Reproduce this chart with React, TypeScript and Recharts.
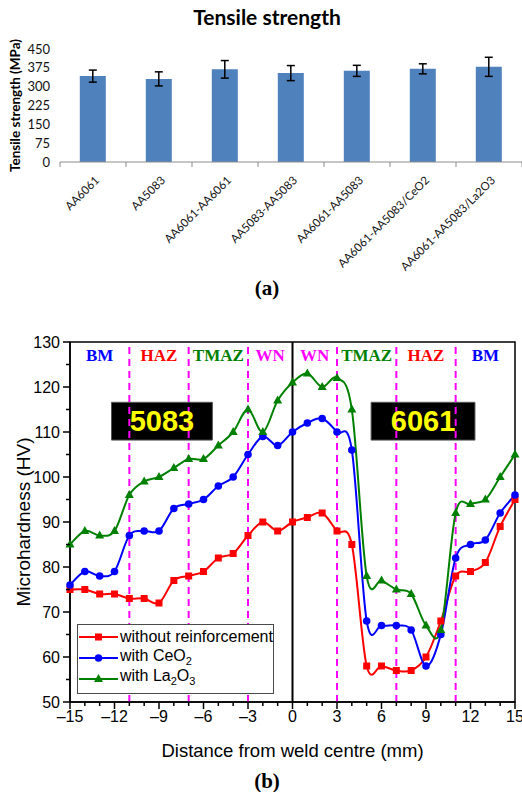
import React from "react";
import {
  BarChart,
  Bar,
  ErrorBar,
  XAxis,
  YAxis,
  LineChart,
  Line,
  ReferenceLine,
  ReferenceArea,
  Legend,
} from "recharts";

// (a) tensile strength
const alloys = [
  "AA6061",
  "AA5083",
  "AA6061-AA6061",
  "AA5083-AA5083",
  "AA6061-AA5083",
  "AA6061-AA5083/CeO2",
  "AA6061-AA5083/La2O3",
];
const tensile = [342, 331, 369, 354, 363, 371, 379];
const tensileErr = [24, 28, 35, 30, 22, 20, 38];
const tensileTicks = [0, 75, 150, 225, 300, 375, 450];

// (b) microhardness profile
const distance = [
  -15, -14, -13, -12, -11, -10, -9, -8, -7, -6, -5, -4, -3, -2, -1, 0, 1, 2, 3, 4, 5, 6, 7, 8, 9, 10, 11, 12, 13,
  14, 15,
];
const plain = [
  75, 75, 74, 74, 73, 73, 72, 77, 78, 79, 82, 83, 87, 90, 88, 90, 91, 92, 88, 85, 58, 58, 57, 57, 60, 68, 78, 79, 81,
  89, 95,
];
const ceo2 = [
  76, 79, 78, 79, 87, 88, 88, 93, 94, 95, 98, 100, 105, 109, 107, 110, 112, 113, 110, 106, 68, 67, 67, 66, 58, 65, 82,
  85, 86, 92, 96,
];
const la2o3 = [
  85, 88, 87, 88, 96, 99, 100, 102, 104, 104, 107, 110, 115, 110, 117, 121, 123, 120, 122, 115, 78, 77, 75, 74, 67, 66,
  92, 94, 95, 100, 105,
];
const xTicks = [
  -15, -14, -13, -12, -11, -10, -9, -8, -7, -6, -5, -4, -3, -2, -1, 0, 1, 2, 3, 4, 5, 6, 7, 8, 9, 10, 11, 12, 13, 14,
  15,
];
const hvTicks = [50, 55, 60, 65, 70, 75, 80, 85, 90, 95, 100, 105, 110, 115, 120, 125, 130];

// weld zones and their borders
const zoneNames = ["BM", "HAZ", "TMAZ", "WN", "WN", "TMAZ", "HAZ", "BM"];
const zoneEdges = [-15, -11, -7, -3, 0, 3, 7, 11, 15];
const zoneColors = ["#0000ff", "#ff0000", "#008000", "#ff00ff", "#ff00ff", "#008000", "#ff0000", "#0000ff"];
const dashedAt = [-11, -7, -3, 3, 7, 11];

// black name boxes
const boxes = [
  { text: "5083", x1: -12.2, x2: -5.4, y1: 108.2, y2: 116.6 },
  { text: "6061", x1: 5.3, x2: 12.3, y1: 108.2, y2: 116.6 },
];

const series = [
  { key: "plain", name: "without reinforcement", color: "#ff0000", shape: "square" },
  { key: "ceo2", name: "with CeO2", color: "#0000ff", shape: "circle" },
  { key: "la2o3", name: "with La2O3", color: "#008000", shape: "triangle" },
];

const barData = alloys.map((name, i) => ({ name, value: tensile[i], err: tensileErr[i] }));
const hvData = distance.map((d, i) => ({ d, plain: plain[i], ceo2: ceo2[i], la2o3: la2o3[i] }));

const SANS = "'Liberation Sans', Arial, sans-serif";
const SERIF = "'Liberation Serif', 'Times New Roman', serif";
const OFFICE = "Lato, sans-serif";

// excel-like smoothed line (catmull-rom through the points)
function smooth(context: any) {
  let pts: number[][] = [];
  return {
    areaStart() {},
    areaEnd() {},
    lineStart() {
      pts = [];
    },
    point(x: number, y: number) {
      pts.push([+x, +y]);
    },
    lineEnd() {
      if (!pts.length) return;
      context.moveTo(pts[0][0], pts[0][1]);
      for (let i = 0; i < pts.length - 1; i++) {
        const p0 = pts[Math.max(i - 1, 0)];
        const p1 = pts[i];
        const p2 = pts[i + 1];
        const p3 = pts[Math.min(i + 2, pts.length - 1)];
        context.bezierCurveTo(
          p1[0] + (p2[0] - p0[0]) / 6,
          p1[1] + (p2[1] - p0[1]) / 6,
          p2[0] - (p3[0] - p1[0]) / 6,
          p2[1] - (p3[1] - p1[1]) / 6,
          p2[0],
          p2[1]
        );
      }
    },
  };
}

function marker(shape: string, cx: number, cy: number, color: string, key?: any) {
  if (shape === "square") return <rect key={key} x={cx - 3.5} y={cy - 3.5} width={7} height={7} fill={color} />;
  if (shape === "circle") return <circle key={key} cx={cx} cy={cy} r={3.8} fill={color} />;
  return (
    <polygon key={key} points={`${cx},${cy - 5} ${cx - 4.5},${cy + 3} ${cx + 4.5},${cy + 3}`} fill={color} />
  );
}

const fmt = (v: number) => (v < 0 ? "\u2013" + Math.abs(v) : String(v));

const withSubs = (s: string) =>
  s.split(/(\d)/).map((part, i) =>
    /\d/.test(part) ? (
      <sub key={i} style={{ fontSize: 11, verticalAlign: -4 }}>
        {part}
      </sub>
    ) : (
      <span key={i}>{part}</span>
    )
  );

const AlloyTick = (p: any) => {
  const band = p.width && p.visibleTicksCount ? p.width / p.visibleTicksCount : 66;
  const last = p.index === p.visibleTicksCount - 1;
  return (
    <g>
      <line x1={p.x - band / 2} x2={p.x - band / 2} y1={p.y} y2={p.y + 5} stroke="#8c8c8c" />
      {last && <line x1={p.x + band / 2} x2={p.x + band / 2} y1={p.y} y2={p.y + 5} stroke="#8c8c8c" />}
      <text
        x={p.x + 7}
        y={p.y + 19}
        transform={`rotate(-45 ${p.x + 7} ${p.y + 19})`}
        textAnchor="end"
        fontSize={11.5}
        fontFamily={OFFICE}
        fill="#111"
      >
        {p.payload.value}
      </text>
    </g>
  );
};

const DistTick = (p: any) => {
  const v = p.payload.value;
  const major = v % 3 === 0;
  return (
    <g>
      <line x1={p.x} x2={p.x} y1={p.y} y2={p.y + (major ? 7 : 4)} stroke="#000" strokeWidth={1.5} />
      {major && (
        <text x={p.x} y={p.y + 20} textAnchor="middle" fontSize={16} fontFamily={SANS} fill="#000">
          {fmt(v)}
        </text>
      )}
    </g>
  );
};

const HvTick = (p: any) => {
  const v = p.payload.value;
  const major = v % 10 === 0;
  return (
    <g>
      <line x1={p.x} x2={p.x - (major ? 7 : 4)} y1={p.y} y2={p.y} stroke="#000" strokeWidth={1.5} />
      {major && (
        <text x={p.x - 10} y={p.y} dy="0.36em" textAnchor="end" fontSize={16} fontFamily={SANS} fill="#000">
          {v}
        </text>
      )}
    </g>
  );
};

const LegendBox = () => (
  <div
    style={{
      width: 197,
      height: 70,
      boxSizing: "border-box",
      border: "1px solid #4a4a4a",
      background: "#fff",
      paddingTop: 2,
    }}
  >
    {series.map((s) => (
      <div key={s.key} style={{ display: "flex", alignItems: "center", height: 20.7 }}>
        <svg width={42} height={14} style={{ flex: "none" }}>
          <line x1={1} x2={40} y1={7} y2={7} stroke={s.color} strokeWidth={2} />
          {marker(s.shape, 20.5, 7, s.color)}
        </svg>
        <span style={{ fontSize: 16, fontFamily: SANS, color: "#000", lineHeight: "18px", whiteSpace: "nowrap" }}>
          {withSubs(s.name)}
        </span>
      </div>
    ))}
  </div>
);

export default function App() {
  return (
    <div style={{ position: "absolute", left: 0, top: 0, width: 522, height: 792, background: "#fff" }}>
      <div
        style={{
          position: "absolute",
          left: 117,
          top: 4,
          width: 300,
          textAlign: "center",
          fontFamily: OFFICE,
          fontWeight: 700,
          fontSize: 21,
          lineHeight: "26px",
          color: "#000",
        }}
      >
        Tensile strength
      </div>

      <div style={{ position: "absolute", left: 0, top: 0 }}>
        <BarChart
          width={522}
          height={280}
          data={barData}
          margin={{ top: 49, right: 0, bottom: 0, left: 0 }}
          barCategoryGap="30%"
        >
          <XAxis
            dataKey="name"
            height={118}
            interval={0}
            tickSize={0}
            tickMargin={0}
            tickLine={false}
            axisLine={{ stroke: "#8c8c8c" }}
            tick={<AlloyTick />}
          />
          <YAxis
            type="number"
            domain={[0, 450]}
            ticks={tensileTicks}
            interval={0}
            width={60}
            axisLine={false}
            tickLine={false}
            tickSize={0}
            tickMargin={10}
            tick={{ fontSize: 13, fontFamily: OFFICE, fill: "#111" }}
            label={{
              value: "Tensile strength (MPa)",
              angle: -90,
              position: "insideLeft",
              offset: 15,
              style: { textAnchor: "middle" },
              fontSize: 13.5,
              fontWeight: 700,
              fontFamily: OFFICE,
              fill: "#000",
            }}
          />
          <Bar dataKey="value" fill="#4f81bd" isAnimationActive={false}>
            <ErrorBar dataKey="err" width={4} stroke="#000" strokeWidth={1.5} direction="y" />
          </Bar>
        </BarChart>
      </div>

      <div
        style={{
          position: "absolute",
          left: 217,
          top: 275,
          width: 100,
          textAlign: "center",
          fontFamily: SERIF,
          fontWeight: 700,
          fontSize: 21,
          lineHeight: "26px",
        }}
      >
        (a)
      </div>

      <div style={{ position: "absolute", left: 0, top: 330 }}>
        <LineChart width={522} height={440} data={hvData} margin={{ top: 12, right: 7, bottom: 0, left: 0 }}>
          <XAxis
            dataKey="d"
            type="number"
            domain={[-15, 15]}
            ticks={xTicks}
            interval={0}
            height={68}
            tickSize={0}
            tickMargin={0}
            tickLine={false}
            axisLine={{ stroke: "#000", strokeWidth: 1.5 }}
            tick={<DistTick />}
            label={{
              value: "Distance from weld centre (mm)",
              position: "insideBottom",
              offset: 13,
              fontSize: 18.5,
              fontFamily: SANS,
              fill: "#000",
            }}
          />
          <YAxis
            type="number"
            domain={[50, 130]}
            ticks={hvTicks}
            interval={0}
            width={70}
            tickSize={0}
            tickMargin={0}
            tickLine={false}
            axisLine={{ stroke: "#000", strokeWidth: 1.5 }}
            tick={<HvTick />}
            label={{
              value: "Microhardness (HV)",
              angle: -90,
              position: "insideLeft",
              offset: 23,
              style: { textAnchor: "middle" },
              fontSize: 19,
              fontFamily: SANS,
              fill: "#000",
            }}
          />
          <ReferenceArea x1={-15} x2={15} y1={50} y2={130} fill="none" stroke="#000" strokeWidth={1.5} />
          {zoneNames.map((z, i) => (
            <ReferenceArea
              key={"zone" + i}
              x1={zoneEdges[i]}
              x2={zoneEdges[i + 1]}
              fill="none"
              fillOpacity={0}
              label={{
                value: z,
                position: "insideTop",
                offset: 7,
                fill: zoneColors[i],
                fontSize: 17,
                fontWeight: 700,
                fontFamily: SERIF,
              }}
            />
          ))}
          {boxes.map((b) => (
            <ReferenceArea
              key={b.text}
              x1={b.x1}
              x2={b.x2}
              y1={b.y1}
              y2={b.y2}
              fill="#000"
              fillOpacity={1}
              stroke="#555"
              label={{
                value: b.text,
                position: "center",
                fill: "#ffff00",
                fontSize: 29,
                fontWeight: 700,
                fontFamily: SANS,
              }}
            />
          ))}
          {dashedAt.map((x) => (
            <ReferenceLine key={x} x={x} stroke="#ff00ff" strokeWidth={2} strokeDasharray="7 5" />
          ))}
          <ReferenceLine x={0} stroke="#000" strokeWidth={2} />
          {series.map((s) => (
            <Line
              key={s.key}
              dataKey={s.key}
              name={s.name}
              type={smooth as any}
              stroke={s.color}
              strokeWidth={2}
              dot={(p: any) => marker(s.shape, p.cx, p.cy, s.color, p.index)}
              activeDot={false}
              isAnimationActive={false}
            />
          ))}
          <Legend
            layout="vertical"
            align="center"
            verticalAlign="middle"
            content={<LegendBox />}
            wrapperStyle={{ left: 77, top: 294, width: 197, height: 70 }}
          />
        </LineChart>
      </div>

      <div
        style={{
          position: "absolute",
          left: 217,
          top: 768,
          width: 100,
          textAlign: "center",
          fontFamily: SERIF,
          fontWeight: 700,
          fontSize: 21,
          lineHeight: "26px",
        }}
      >
        (b)
      </div>
    </div>
  );
}
